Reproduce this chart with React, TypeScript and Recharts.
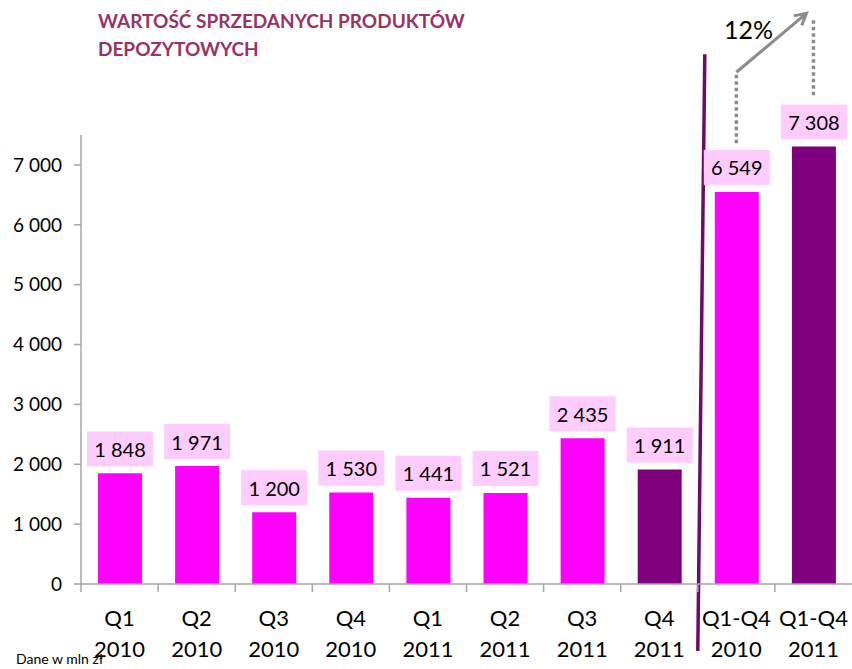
import React from 'react';
import { BarChart, Bar, XAxis, YAxis, Cell, LabelList, ReferenceLine } from 'recharts';

const categories = ['Q1 2010', 'Q2 2010', 'Q3 2010', 'Q4 2010', 'Q1 2011', 'Q2 2011', 'Q3 2011', 'Q4 2011', 'Q1-Q4 2010', 'Q1-Q4 2011'];
const values = [1848, 1971, 1200, 1530, 1441, 1521, 2435, 1911, 6549, 7308];
const barColors = ['#FF00FF', '#FF00FF', '#FF00FF', '#FF00FF', '#FF00FF', '#FF00FF', '#FF00FF', '#800080', '#FF00FF', '#800080'];
const yTicks = [0, 1000, 2000, 3000, 4000, 5000, 6000, 7000];

const data = categories.map((name, i) => ({ name, value: values[i] }));

const W = 852;
const H = 669;
const Y_AXIS_W = 81;
const BAND = (W - Y_AXIS_W) / categories.length;
const FONT = 'Lato, "Open Sans", sans-serif';
const AXIS_GRAY = '#A6A6A6';
const ANNOT_GRAY = '#8C8C8C';

const fmt = (v: number) => String(v).replace(/\B(?=(\d{3})+(?!\d))/g, ' ');

const CategoryTick = (props: any) => {
  const { x, y, payload } = props;
  const [q, year] = String(payload.value).split(' ');
  const bx = x - BAND / 2;
  return (
    <g>
      <line x1={bx} y1={y} x2={bx} y2={y + 8} stroke={AXIS_GRAY} strokeWidth={1.5} />
      <text x={x} y={y + 42} textAnchor="middle" fontSize={22} fontFamily={FONT} fill="#000">{q}</text>
      <text x={x} y={y + 73} textAnchor="middle" fontSize={22} fontFamily={FONT} fill="#000">{year}</text>
    </g>
  );
};

const ValueLabel = (props: any) => {
  const { x, y, width, value } = props;
  const cx = x + width / 2;
  const boxW = 66;
  const boxH = 35;
  const top = y - 7 - boxH;
  return (
    <g>
      <rect x={cx - boxW / 2} y={top} width={boxW} height={boxH} fill="#FFCCFF" />
      <text x={cx} y={top + boxH / 2} textAnchor="middle" dominantBaseline="central" fontSize={20} fontFamily={FONT} fill="#000">
        {fmt(value)}
      </text>
    </g>
  );
};

// divider between quarterly and yearly bars: sits on the band boundary, slightly slanted
const DividerShape = (props: any) => {
  const { x1, y1, x2, y2 } = props;
  return <line x1={x1 - BAND / 2 + 7} y1={y1} x2={x2 - BAND / 2} y2={y2} stroke="#6E0A6E" strokeWidth={3.5} />;
};

const ArrowShape = (props: any) => {
  const { x1, y1, y2 } = props;
  const x2 = props.x2 - 7;
  const ang = Math.atan2(y2 - y1, x2 - x1);
  const len = 13;
  const spread = 0.5;
  const ax = x2 - len * Math.cos(ang - spread);
  const ay = y2 - len * Math.sin(ang - spread);
  const bx = x2 - len * Math.cos(ang + spread);
  const by = y2 - len * Math.sin(ang + spread);
  return (
    <g>
      <line x1={x1} y1={y1} x2={x2} y2={y2} stroke={ANNOT_GRAY} strokeWidth={3} />
      <polyline points={`${ax},${ay} ${x2},${y2} ${bx},${by}`} fill="none" stroke={ANNOT_GRAY} strokeWidth={3} />
    </g>
  );
};

export default function App() {
  return (
    <div style={{ position: 'absolute', left: 0, top: 0, width: W, height: H, background: '#fff', fontFamily: FONT }}>
      <div style={{ position: 'absolute', left: 98, top: 7, fontSize: 19, fontWeight: 700, color: '#993366', lineHeight: '28px' }}>
        WARTOŚĆ SPRZEDANYCH PRODUKTÓW
        <br />
        DEPOZYTOWYCH
      </div>
      <div style={{ position: 'absolute', left: 724, top: 14, fontSize: 25, color: '#000' }}>12%</div>
      <div style={{ position: 'absolute', left: 16, top: 651, fontSize: 14, lineHeight: '16px', color: '#000', whiteSpace: 'nowrap' }}>
        Dane w mln zł
      </div>
      <BarChart width={W} height={H} data={data} margin={{ top: 135, right: 0, left: 0, bottom: 0 }}>
        <XAxis
          dataKey="name"
          height={85}
          interval={0}
          tickSize={0}
          tickMargin={0}
          tickLine={false}
          axisLine={{ stroke: AXIS_GRAY, strokeWidth: 1.5 }}
          tick={<CategoryTick />}
        />
        <YAxis
          width={Y_AXIS_W}
          domain={[0, 7500]}
          ticks={yTicks}
          tickSize={7}
          tickMargin={12}
          tickFormatter={fmt}
          axisLine={{ stroke: AXIS_GRAY, strokeWidth: 1.5 }}
          tickLine={{ stroke: AXIS_GRAY, strokeWidth: 1.5 }}
          tick={{ fill: '#000', fontSize: 19, fontFamily: FONT }}
        />
        <Bar dataKey="value" barSize={44} isAnimationActive={false}>
          {data.map((d, i) => (
            <Cell key={d.name} fill={barColors[i]} />
          ))}
          <LabelList dataKey="value" content={<ValueLabel />} />
        </Bar>
        <ReferenceLine
          segment={[{ x: 'Q1-Q4 2010', y: 8850 }, { x: 'Q1-Q4 2010', y: -1118 }]}
          ifOverflow="visible"
          shape={<DividerShape />}
        />
        <ReferenceLine
          segment={[{ x: 'Q1-Q4 2010', y: 7362 }, { x: 'Q1-Q4 2010', y: 8548 }]}
          stroke={ANNOT_GRAY}
          strokeWidth={3.5}
          strokeDasharray="3.5 3"
          ifOverflow="visible"
        />
        <ReferenceLine
          segment={[{ x: 'Q1-Q4 2011', y: 8164 }, { x: 'Q1-Q4 2011', y: 9416 }]}
          stroke={ANNOT_GRAY}
          strokeWidth={3.5}
          strokeDasharray="3.5 3"
          ifOverflow="visible"
        />
        <ReferenceLine
          segment={[{ x: 'Q1-Q4 2010', y: 8548 }, { x: 'Q1-Q4 2011', y: 9533 }]}
          ifOverflow="visible"
          shape={<ArrowShape />}
        />
      </BarChart>
    </div>
  );
}
